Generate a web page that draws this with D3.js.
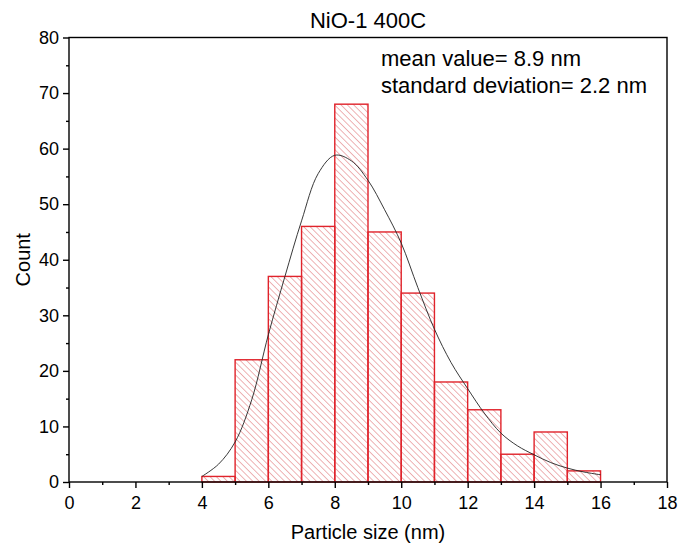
<!DOCTYPE html>
<html>
  <head>
    <script src="https://d3js.org/d3.v7.min.js"></script>
    <style>
      body { margin: 0; background: #fff; }
      text { font-family: "Liberation Sans", Arial, sans-serif; fill: #000; }
    </style>
  </head>
  <body>
    <svg class="chart" width="678" height="548"></svg>
  </body>
  <script>
    // histogram bins (nm) and counts
    var binStart = [4, 5, 6, 7, 8, 9, 10, 11, 12, 13, 14, 15];
    var counts   = [1, 22, 37, 46, 68, 45, 34, 18, 13, 5, 9, 2];

    // fitted curve
    var fitX = [4, 4.5, 5, 5.5, 6, 6.5, 7, 7.5, 8, 8.5, 9, 9.5, 10, 10.5, 11, 11.5, 12, 12.5, 13, 13.5, 14, 14.5, 15, 15.5, 16];
    var fitY = [1.0, 3.2, 7.2, 14.8, 26.5, 37, 47, 55.5, 58.8, 57.8, 54.3, 49, 43, 35, 27.5, 21.5, 16.8, 12.4, 8.8, 6.5, 4.9, 3.5, 2.5, 1.8, 1.3];

    var xTicks = [0, 2, 4, 6, 8, 10, 12, 14, 16, 18];
    var yTicks = [0, 10, 20, 30, 40, 50, 60, 70, 80];

    var svg = d3.select(".chart");
    var plotL = 69, plotR = 667, plotT = 37.5, plotB = 482;

    var x = d3.scaleLinear().domain([0, 18]).range([plotL, plotR]);
    var y = d3.scaleLinear().domain([0, 80]).range([plotB, plotT]);

    // hatch pattern (\\\ direction)
    var defs = svg.append("defs");
    defs.append("pattern")
      .attr("id", "hatch")
      .attr("patternUnits", "userSpaceOnUse")
      .attr("width", 4.5).attr("height", 4.5)
      .attr("patternTransform", "rotate(-45)")
      .append("line")
      .attr("x1", 0).attr("y1", 0).attr("x2", 0).attr("y2", 4.5)
      .attr("stroke", "#d9585c").attr("stroke-width", 0.9);

    svg.append("g").selectAll("rect")
      .data(counts)
      .enter()
      .append("rect")
      .attr("x", function(d, i) { return x(binStart[i]); })
      .attr("y", function(d) { return y(d); })
      .attr("width", function(d, i) { return x(binStart[i] + 1) - x(binStart[i]); })
      .attr("height", function(d) { return y(0) - y(d); })
      .attr("fill", "url(#hatch)")
      .attr("stroke", "#e0232b")
      .attr("stroke-width", 1.4);

    var line = d3.line()
      .x(function(d, i) { return x(fitX[i]); })
      .y(function(d) { return y(d); })
      .curve(d3.curveCatmullRom);

    svg.append("path")
      .datum(fitY)
      .attr("d", line)
      .attr("fill", "none")
      .attr("stroke", "#222")
      .attr("stroke-width", 0.9);

    // frame
    svg.append("rect")
      .attr("x", plotL).attr("y", plotT)
      .attr("width", plotR - plotL).attr("height", plotB - plotT)
      .attr("fill", "none").attr("stroke", "#000").attr("stroke-width", 1.4);

    // axes
    var xAxis = d3.axisBottom(x).tickValues(xTicks).tickSize(6).tickPadding(8);
    var gx = svg.append("g").attr("transform", "translate(0," + plotB + ")").call(xAxis);
    var xMinor = d3.axisBottom(x).tickValues(d3.range(1, 18, 2)).tickSize(3).tickFormat("");
    var gxm = svg.append("g").attr("transform", "translate(0," + plotB + ")").call(xMinor);

    var yAxis = d3.axisLeft(y).tickValues(yTicks).tickSize(6).tickPadding(4);
    var gy = svg.append("g").attr("transform", "translate(" + plotL + ",0)").call(yAxis);
    var yMinor = d3.axisLeft(y).tickValues(d3.range(5, 80, 10)).tickSize(3).tickFormat("");
    var gym = svg.append("g").attr("transform", "translate(" + plotL + ",0)").call(yMinor);

    [gx, gxm, gy, gym].forEach(function(g) {
      g.select(".domain").remove();
      g.selectAll("line").attr("stroke", "#000").attr("stroke-width", 1.4);
      g.selectAll("text").style("font-size", "18px").style("font-family", "'Liberation Sans', Arial, sans-serif").attr("fill", "#000");
    });

    svg.append("text")
      .attr("x", (plotL + plotR) / 2).attr("y", 28)
      .attr("text-anchor", "middle")
      .style("font-size", "22px")
      .text("NiO-1 400C");

    svg.append("text")
      .attr("x", 381).attr("y", 66)
      .style("font-size", "22px")
      .text("mean value= 8.9 nm");
    svg.append("text")
      .attr("x", 381).attr("y", 93)
      .style("font-size", "22px")
      .text("standard deviation= 2.2 nm");

    svg.append("text")
      .attr("x", (plotL + plotR) / 2).attr("y", 539)
      .attr("text-anchor", "middle")
      .style("font-size", "20px")
      .text("Particle size (nm)");

    svg.append("text")
      .attr("transform", "translate(30," + ((plotT + plotB) / 2) + ") rotate(-90)")
      .attr("text-anchor", "middle")
      .style("font-size", "20px")
      .text("Count");
  </script>
</html>
